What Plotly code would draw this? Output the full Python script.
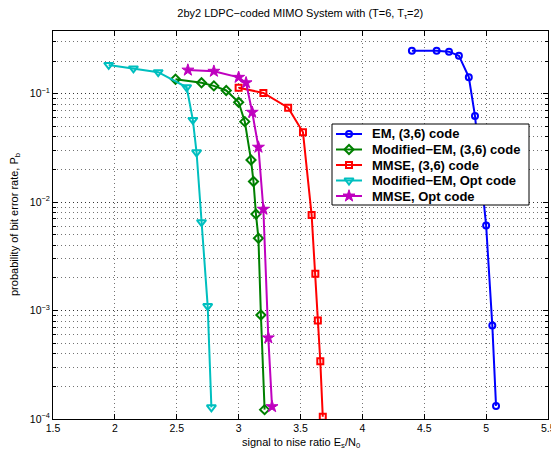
import plotly.graph_objects as go

snr_em = [4.40, 4.60, 4.70, 4.78, 4.86, 4.91, 5.00, 5.05, 5.08]
ber_em = [0.249, 0.249, 0.244, 0.224, 0.142, 0.0623, 0.0061, 7.3e-4, 1.32e-4]

snr_mem36 = [2.49, 2.70, 2.80, 2.90, 3.00, 3.05, 3.10, 3.12, 3.14, 3.16, 3.18, 3.21]
ber_mem36 = [0.136, 0.126, 0.118, 0.107, 0.0834, 0.0552, 0.0245, 0.0155, 0.00775, 0.00465, 9.1e-4, 1.22e-4]

snr_mmse36 = [3.00, 3.20, 3.40, 3.52, 3.59, 3.62, 3.64, 3.66, 3.68]
ber_mmse36 = [0.1136, 0.1015, 0.0743, 0.044, 0.0076, 0.00218, 8.1e-4, 3.4e-4, 1.05e-4]

snr_memopt = [1.95, 2.15, 2.35, 2.58, 2.63, 2.66, 2.70, 2.75, 2.78]
ber_memopt = [0.184, 0.171, 0.158, 0.1146, 0.0573, 0.0288, 0.00653, 1.1e-3, 1.28e-4]

snr_mmseopt = [2.59, 2.80, 3.00, 3.06, 3.11, 3.16, 3.20, 3.24, 3.27]
ber_mmseopt = [0.165, 0.161, 0.1416, 0.126, 0.0674, 0.0321, 0.0086, 5.6e-4, 1.3e-4]

names = ["EM, (3,6) code", "Modified\u2212EM, (3,6) code", "MMSE, (3,6) code",
         "Modified\u2212EM, Opt code", "MMSE, Opt code"]
xs = [snr_em, snr_mem36, snr_mmse36, snr_memopt, snr_mmseopt]
ys = [ber_em, ber_mem36, ber_mmse36, ber_memopt, ber_mmseopt]
colors = ["#0000ff", "#008000", "#ff0000", "#00bfbf", "#bf00bf"]
symbols = ["circle-open", "diamond-open", "square-open", "triangle-down-open", "star"]
sizes = [6, 7, 6, 8, 9]
mlw = [2, 2, 2, 2, 1]

x_ticks = [1.5, 2, 2.5, 3, 3.5, 4, 4.5, 5, 5.5]
y_ticks = [1e-4, 1e-3, 1e-2, 1e-1]
y_ticklabels = ["10<sup>\u22124</sup>", "10<sup>\u22123</sup>", "10<sup>\u22122</sup>", "10<sup>\u22121</sup>"]

# layout geometry (pixels)
W, H = 551, 452
L, R, T, B = 53, 548, 31, 419
pw, ph = R - L, B - T


def px_x(p):
    return (p - L) / pw


def px_y(p):
    return (B - p) / ph


FONT = "Liberation Sans, Arial, Helvetica, sans-serif"

fig = go.Figure()
for x, y, c, s, sz, lw, n in zip(xs, ys, colors, symbols, sizes, mlw, names):
    fig.add_trace(go.Scatter(
        x=x, y=y, mode="lines+markers", name=n, showlegend=False,
        line=dict(color=c, width=2),
        marker=dict(symbol=s, size=sz, color=c, line=dict(color=c, width=lw)),
    ))

# custom legend drawn on an overlay axis (so the box covers the data lines)
bx0, bx1, by0, by1 = 332, 529, 124, 205
fig.add_trace(go.Scatter(
    x=[px_x(bx0), px_x(bx1), px_x(bx1), px_x(bx0), px_x(bx0)],
    y=[px_y(by0), px_y(by0), px_y(by1), px_y(by1), px_y(by0)],
    mode="lines", fill="toself", fillcolor="white",
    line=dict(color="black", width=1), xaxis="x2", yaxis="y2",
    showlegend=False, hoverinfo="skip"))
row_y = [134, 149.5, 165, 180.5, 196]
annotations = []
for ry, c, s, sz, lw, n in zip(row_y, colors, symbols, sizes, mlw, names):
    fig.add_trace(go.Scatter(
        x=[px_x(336), px_x(362)], y=[px_y(ry), px_y(ry)], mode="lines",
        line=dict(color=c, width=2), xaxis="x2", yaxis="y2",
        showlegend=False, hoverinfo="skip"))
    fig.add_trace(go.Scatter(
        x=[px_x(349)], y=[px_y(ry)], mode="markers",
        marker=dict(symbol=s, size=sz, color=c, line=dict(color=c, width=lw)),
        xaxis="x2", yaxis="y2", showlegend=False, hoverinfo="skip"))
    annotations.append(dict(
        x=px_x(370), y=px_y(ry), xref="paper", yref="paper", xanchor="left",
        yanchor="middle", showarrow=False, text="<b>" + n + "</b>",
        font=dict(size=13, family=FONT, color="black")))

annotations.append(dict(
    x=0.5, y=px_y(443), xref="paper", yref="paper",
    xanchor="center", yanchor="middle", showarrow=False,
    text="signal to nise ratio E<sub>s</sub>/N<sub>0</sub>",
    font=dict(size=11, family=FONT, color="black")))
annotations.append(dict(
    x=px_x(15), y=0.5, xref="paper", yref="paper", xanchor="center",
    yanchor="middle", showarrow=False, textangle=-90,
    text="probability of bit error rate, P<sub>b</sub>",
    font=dict(size=11, family=FONT, color="black")))
# last x tick label (runs off the right edge, as in the original)
annotations.append(dict(
    x=x_ticks[-1], y=px_y(428.5), xref="x", yref="paper",
    xanchor="center", yanchor="middle", showarrow=False,
    text=str(x_ticks[-1]), font=dict(size=10.5, family=FONT, color="black")))

grid = "rgba(0,0,0,0.55)"
fig.update_layout(
    template="none",
    width=W, height=H,
    margin=dict(l=L, r=W - R, t=T, b=H - B),
    paper_bgcolor="white", plot_bgcolor="white",
    font=dict(family=FONT, size=10.5, color="black"),
    title=dict(text="2by2 LDPC\u2212coded MIMO System with (T=6, T<sub>\u03c4</sub>=2)",
               x=0.545, xanchor="center", y=0.971, yanchor="middle", yref="container",
               font=dict(size=11)),
    showlegend=False,
    annotations=annotations,
    xaxis=dict(range=[1.5, 5.5], tickvals=x_ticks[:-1], ticktext=[str(v) for v in x_ticks[:-1]],
               ticks="inside", ticklen=5, tickcolor="black", showline=True, linecolor="black",
               linewidth=1, mirror="ticks", showgrid=True, gridcolor=grid, griddash="1px,3px",
               gridwidth=1, zeroline=False, automargin=False, ticklabelstandoff=-1,
               tickfont=dict(size=10.5)),
    yaxis=dict(type="log", range=[-4, -0.422], tickvals=y_ticks, ticktext=y_ticklabels,
               ticks="inside", ticklen=5, tickcolor="black", showline=True, linecolor="black",
               linewidth=1, mirror="ticks", showgrid=True, gridcolor=grid, griddash="1px,3px",
               gridwidth=1, zeroline=False, automargin=False, tickfont=dict(size=10.5),
               minor=dict(dtick="D1", ticks="inside", ticklen=3, tickcolor="black",
                          showgrid=True, gridcolor=grid, griddash="1px,3px", gridwidth=1)),
    xaxis2=dict(range=[0, 1], domain=[0, 1], overlaying="x", anchor="y2", visible=False,
                fixedrange=True),
    yaxis2=dict(range=[0, 1], domain=[0, 1], overlaying="y", anchor="x2", visible=False,
                fixedrange=True),
)

fig.write_html("out.html",
               config={"displayModeBar": False},
               post_script="document.body.style.margin='0px';"
                           "document.body.style.overflow='hidden';")
